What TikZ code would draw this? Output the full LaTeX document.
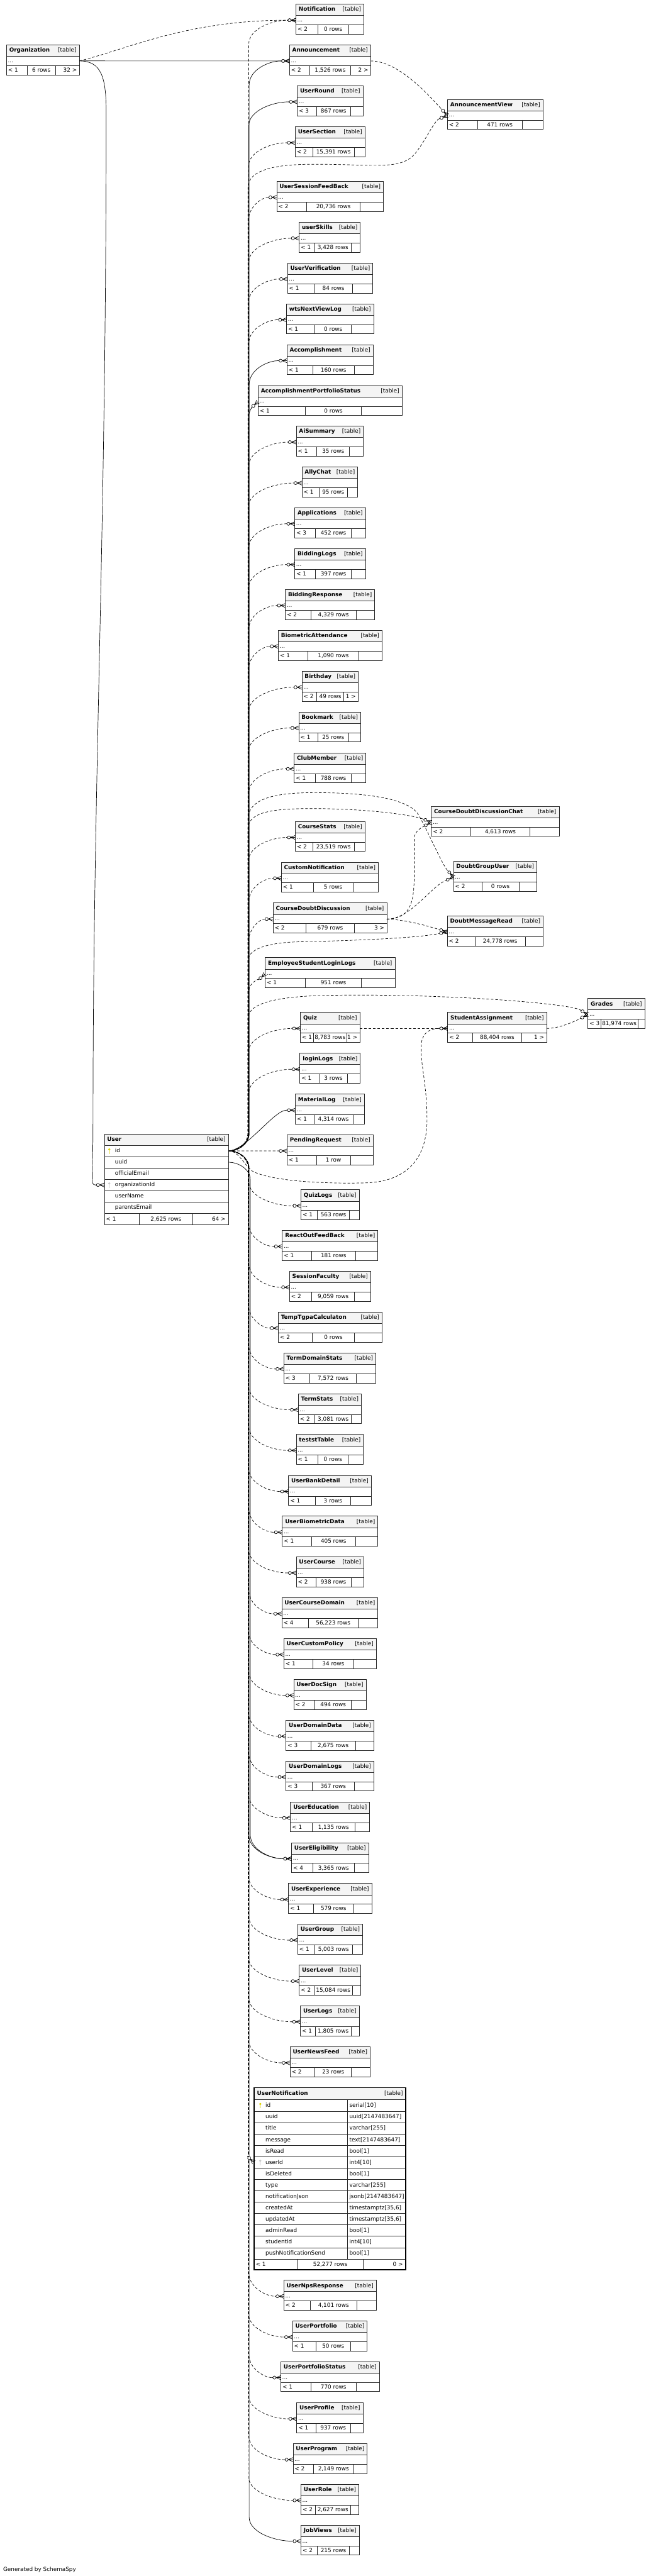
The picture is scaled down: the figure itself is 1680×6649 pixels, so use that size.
\documentclass[tikz,border=0pt]{standalone}
\usepackage{fontspec}
\setmainfont{DejaVu Sans}
\usetikzlibrary{arrows.meta}
\definecolor{hdr}{HTML}{F4F4F4}
\definecolor{pkey}{HTML}{E0D400}
\definecolor{fkey}{HTML}{CACACA}
\newcommand\tfont{\fontsize{10.8}{13}\selectfont}
\pgfdeclarearrow{
  name=Crow,
  setup code={
    \pgfarrowssettipend{0pt}%
    \pgfarrowssetlineend{-17pt}%
    \pgfarrowssetbackend{-17.5pt}%
    \pgfarrowshullpoint{0pt}{4pt}%
    \pgfarrowshullpoint{0pt}{-4pt}%
    \pgfarrowshullpoint{-17.5pt}{0pt}%
  },
  drawing code={
    \pgfsetdash{}{0pt}%
    \pgfpathmoveto{\pgfpoint{0pt}{3.9pt}}%
    \pgfpathlineto{\pgfpoint{-9.3pt}{0pt}}%
    \pgfpathlineto{\pgfpoint{0pt}{-3.9pt}}%
    \pgfpathmoveto{\pgfpoint{0pt}{0pt}}%
    \pgfpathlineto{\pgfpoint{-9.3pt}{0pt}}%
    \pgfpathmoveto{\pgfpoint{-15.3pt}{0pt}}%
    \pgfpathlineto{\pgfpoint{-17.5pt}{0pt}}%
    \pgfusepathqstroke
    \pgfpathcircle{\pgfpoint{-12.3pt}{0pt}}{3pt}%
    \pgfsetfillcolor{white}%
    \pgfusepathqfillstroke
  }
}
\tikzset{
  tb/.style={draw=black!85, line width=0.85pt},
  tt/.style={inner sep=0pt, font=\tfont},
  conn/.style={line width=0.85pt, -{Crow}},
  cd/.style={conn, dash pattern=on 5pt off 3.6pt},
  cs/.style={conn},
  nc/.style={draw=none},
}
% key icon: x, y (row centre), colour
\newcommand\keyicon[3]{%
  \fill[#3] (#1,{#2-4}) circle (2.3pt);
  \draw[#3,line width=1.4pt] (#1,{#2-3}) -- (#1,{#2+7.5});
}
% connector from a User port along the trunk to a table port
% #1 style, #2 trunk x, #3 target, #4 target y, #5 target x, #6 source, #7 source y
\newcommand\uconn[7]{%
  \pgfmathsetmacro\cdy{#4-#7}%
  \pgfmathsetmacro\cady{abs(\cdy)}%
  \pgfmathsetmacro\cdx{#5-#2}%
  \ifdim\cady pt<3pt
    \draw[#1] (#6) -- (#3);
  \else\ifdim\cady pt<140pt
    \draw[#1] (#6) .. controls +(45,0) and +(-55,0) .. (#3);
  \else
    \pgfmathsetmacro\csg{\cdy<0 ? -1 : 1}%
    \pgfmathsetmacro\cya{#7+\csg*45}%
    \pgfmathsetmacro\cyb{#7+\csg*18}%
    \ifdim\cdx pt<58pt
      \pgfmathsetmacro\cyc{#4-\csg*45}%
      \pgfmathsetmacro\cyd{#4-\csg*22}%
      \pgfmathsetmacro\cex{#5-11}%
      \pgfmathsetmacro\cey{#4-\csg*10}%
    \else
      \pgfmathsetmacro\cyc{#4-\csg*62}%
      \pgfmathsetmacro\cyd{#4-\csg*22}%
      \pgfmathsetmacro\cex{#5-0.5*\cdx}%
      \pgfmathsetmacro\cey{#4}%
    \fi
    \draw[#1] (#6) .. controls +(26,0) and (#2,\cyb) .. (#2,\cya) -- (#2,\cyc) .. controls (#2,\cyd) and (\cex,\cey) .. (#3);
  \fi\fi
}
\begin{document}
\begin{tikzpicture}[x=0.75pt,y=-0.75pt]
\fill[white] (0,0) rectangle (1680,6649);
\useasboundingbox (0,0) rectangle (1680,6649);

% ---------------- User table ----------------
\draw[tb,fill=hdr] (269.3,2926.7) rectangle (589.3,2956);
\draw[tb,fill=white] (269.3,2956) rectangle (589.3,3161.1);
\foreach \yy in {2985.3,3014.6,3043.9,3073.2,3102.5,3131.8}{\draw[tb] (269.3,\yy) -- (589.3,\yy);}
\draw[tb] (360,3131.8) -- (360,3161.1) (497,3131.8) -- (497,3161.1);
\node[tt,anchor=base west,font=\tfont\bfseries] (user-t) at (276.5,2945.2) {User};
\node[tt,anchor=base east] (user-k) at (582.3,2945.2) {[table]};
\node[tt,anchor=base west] (user-c1) at (296.7,2975) {id};
\node[tt,anchor=base west] (user-c2) at (296.7,3004.3) {uuid};
\node[tt,anchor=base west] (user-c3) at (296.7,3033.6) {officialEmail};
\node[tt,anchor=base west] (user-c4) at (296.7,3062.9) {organizationId};
\node[tt,anchor=base west] (user-c5) at (296.7,3092.2) {userName};
\node[tt,anchor=base west] (user-c6) at (296.7,3121.5) {parentsEmail};
\node[tt,anchor=base west] (user-l) at (273.3,3150.8) {< 1};
\node[tt,anchor=base] (user-m) at (428.5,3150.8) {2,625 rows};
\node[tt,anchor=base east] (user-r) at (582.3,3150.8) {64 >};
\keyicon{282}{2970.6}{pkey}
\keyicon{282}{3058.5}{fkey}
\coordinate (user-id) at (589.3,2970.5);
\coordinate (user-uuid) at (589.3,2999.8);
\coordinate (user-org-w) at (269.3,3058.5);

% ---------------- UserNotification table ----------------
\fill[hdr] (655.2,5388.4) rectangle (1047.6,5419.8);
\foreach \i in {0,...,14}{\draw[tb] (655.2,{5419.8+29.35*\i}) -- (1047.6,{5419.8+29.35*\i});}
\draw[tb] (896.7,5419.8) -- (896.7,5830.7);
\draw[tb] (767.1,5830.7) -- (767.1,5858) (937.9,5830.7) -- (937.9,5858);
\draw[black,line width=2.2pt] (655.2,5388.4) rectangle (1047.6,5858);
\node[tt,anchor=base west,font=\tfont\bfseries] (un-t) at (663,5407.4) {UserNotification};
\node[tt,anchor=base east] (un-k) at (1040,5407.4) {[table]};
\foreach \cn/\ct [count=\i from 0] in {id/serial[10],uuid/uuid[2147483647],title/varchar[255],message/text[2147483647],isRead/bool[1],userId/int4[10],isDeleted/bool[1],type/varchar[255],notificationJson/jsonb[2147483647],createdAt/{timestamptz[35,6]},updatedAt/{timestamptz[35,6]},adminRead/bool[1],studentId/int4[10],pushNotificationSend/bool[1]}{
  \node[tt,anchor=base west] (un-n\i) at (685.1,{5419.8+29.35*\i+19.5}) {\cn};
  \node[tt,anchor=base west] (un-y\i) at (901.5,{5419.8+29.35*\i+19.5}) {\ct};
}
\keyicon{671.7}{5434.5}{pkey}
\keyicon{671.7}{5581.2}{fkey}
\node[tt,anchor=base west] (un-l) at (660,5849.5) {< 1};
\node[tt,anchor=base] (un-m) at (852.5,5849.5) {52,277 rows};
\node[tt,anchor=base east] (un-r) at (1040,5849.5) {0 >};
\coordinate (un-uid-w) at (655.2,5581.2);

% ---------------- compact tables ----------------
\foreach \tid/\ttl/\xl/\xr/\yt/\da/\db/\fa/\fb/\fc/\us/\bx in {
org/Organization/16.7/204.7/115.7/70/143.3/{< 1}/{6 rows}/{32 >}/nc/640,
notif/Notification/763.6/939.2/10.7/820.4/899.3/{< 2}/{0 rows}/{}/cd/642,
ann/Announcement/747.1/956.6/115.8/799.6/904.5/{< 2}/{1,526 rows}/{2 >}/cs/643,
uround/UserRound/767.1/936.6/221.4/816.9/904.5/{< 3}/{867 rows}/{}/cs/642,
usection/UserSection/761.9/941.8/326.9/807/914.1/{< 2}/{15,391 rows}/{}/cd/641,
av/AnnouncementView/1154.7/1401.3/256.4/1231.9/1348/{< 2}/{471 rows}/{}/nc/640,
usfb/UserSessionFeedBack/714.2/989.5/467.9/791.3/929.7/{< 2}/{20,736 rows}/{}/cd/641,
uskills/userSkills/772.3/929.7/573.5/812.6/905.8/{< 1}/{3,428 rows}/{}/cd/642,
uverif/UserVerification/741.9/962.2/678.8/811.3/909.7/{< 1}/{84 rows}/{}/cd/641,
wts/wtsNextViewLog/739.3/964.4/783.9/812.6/907.1/{< 1}/{0 rows}/{}/cd/642,
accomp/Accomplishment/740.6/963.1/889.5/807/914.1/{< 1}/{160 rows}/{}/cs/643,
aps/AccomplishmentPortfolioStatus/666/1037.7/995/788.3/932.7/{< 1}/{0 rows}/{}/cs/641,
aisum/AiSummary/764.5/937.9/1099.7/817.8/901.9/{< 1}/{35 rows}/{}/cd/642,
ally/AllyChat/779.2/923.2/1205.3/823/896.7/{< 1}/{95 rows}/{}/cd/641,
apps/Applications/760.6/943.1/1310.4/813.9/907.1/{< 3}/{452 rows}/{}/cd/642,
bidlogs/BiddingLogs/760.6/943.1/1415.7/813.9/907.1/{< 1}/{397 rows}/{}/cd/641,
bidresp/BiddingResponse/736.3/967/1521.3/801.8/919.3/{< 2}/{4,329 rows}/{}/cd/642,
bio/BiometricAttendance/718.1/986/1626.8/794.8/925.8/{< 1}/{1,090 rows}/{}/cd/641,
bday/Birthday/779.2/924.5/1732.4/817.8/887.2/{< 2}/{49 rows}/{1 >}/cd/642,
bmark/Bookmark/771/931/1837.5/820.4/899.3/{< 1}/{25 rows}/{}/cd/641,
club/ClubMember/759.3/944.4/1943.1/813.9/907.1/{< 1}/{788 rows}/{}/cd/642,
cstats/CourseStats/761.9/941.8/2120/807/914.1/{< 2}/{23,519 rows}/{}/cd/641,
cnotif/CustomNotification/725.9/976.5/2225.3/808.3/911/{< 1}/{5 rows}/{}/cd/642,
cdd/CourseDoubtDiscussion/704.6/998.2/2330.7/790/914.1/{< 2}/{679 rows}/{3 >}/cd/641,
cddc/CourseDoubtDiscussionChat/1113.1/1442.9/2081/1214.6/1368/{< 2}/{4,613 rows}/{}/nc/640,
dgu/DoubtGroupUser/1170.4/1385.6/2222.7/1243.2/1339.6/{< 2}/{0 rows}/{}/nc/640,
dmr/DoubtMessageRead/1154.3/1401.7/2364/1225.4/1356/{< 2}/{24,778 rows}/{}/nc/640,
esll/EmployeeStudentLoginLogs/684.4/1019.3/2471.9/788.5/932.4/{< 1}/{951 rows}/{}/cd/642,
quiz/Quiz/775.3/928.5/2613.1/808.4/895.3/{< 1}/{8,783 rows}/{1 >}/cd/641,
sa/StudentAssignment/1155.3/1410.6/2613.1/1220.2/1346.2/{< 2}/{88,404 rows}/{1 >}/nc/640,
grades/Grades/1517.3/1663.9/2577.2/1550.5/1646/{< 3}/{81,974 rows}/{}/nc/640,
login/loginLogs/774/929.8/2718.4/824.4/896.6/{< 1}/{3 rows}/{}/cd/642,
mlog/MaterialLog/762/940.4/2824/810.4/910.6/{< 1}/{4,314 rows}/{}/cs/643,
preq/PendingRequest/740.8/963/2929.2/816.4/904.6/{< 1}/{1 row}/{}/cd/641,
qlogs/QuizLogs/776.6/927.1/3070.8/819.1/901.9/{< 1}/{563 rows}/{}/cd/642,
rofb/ReactOutFeedBack/728.5/975.2/3175.8/803.5/918/{< 1}/{181 rows}/{}/cd/641,
sfac/SessionFaculty/747.1/956.6/3281.2/804.8/914.9/{< 2}/{9,059 rows}/{}/cd/642,
ttgpa/TempTgpaCalculaton/718.1/986/3386.5/806.1/914.9/{< 2}/{0 rows}/{}/cd/641,
tds/TermDomainStats/732.4/970/3491.9/799.6/919.7/{< 3}/{7,572 rows}/{}/cd/642,
tstats/TermStats/769.7/932.7/3597.3/812.6/907.1/{< 2}/{3,081 rows}/{}/cd/641,
tst/teststTable/764.5/937.9/3702.2/820.4/898/{< 1}/{0 rows}/{}/cd/642,
ubank/UserBankDetail/744.5/958.3/3808.1/813.9/904.5/{< 1}/{3 rows}/{}/cd/641,
ubio/UserBiometricData/728.5/975.2/3913.4/803.5/918/{< 1}/{405 rows}/{}/cd/642,
ucourse/UserCourse/764.5/939.2/4018.4/815.2/905.8/{< 2}/{938 rows}/{}/cd/641,
ucd/UserCourseDomain/727.2/975.2/4123.8/795.2/924.5/{< 4}/{56,223 rows}/{}/cd/642,
ucp/UserCustomPolicy/732.4/971.3/4229.1/807.4/912.8/{< 1}/{34 rows}/{}/cd/641,
uds/UserDocSign/758/944.9/4334.5/812.6/907.1/{< 2}/{494 rows}/{}/cd/642,
udd/UserDomainData/738/964.8/4439.9/801.8/918/{< 3}/{2,675 rows}/{}/cd/641,
udl/UserDomainLogs/738/964.8/4545.3/806.1/914.1/{< 3}/{367 rows}/{}/cd/642,
uedu/UserEducation/749.7/954/4650.7/806.1/915.4/{< 1}/{1,135 rows}/{}/cd/641,
uelig/UserEligibility/752.3/951.4/4756/807.4/914.1/{< 4}/{3,365 rows}/{}/cs/642,
uexp/UserExperience/744.5/959.6/4861.4/808.7/912.8/{< 1}/{579 rows}/{}/cd/641,
ugroup/UserGroup/768.4/935.8/4966.3/812.6/908.9/{< 1}/{5,003 rows}/{}/cd/642,
ulevel/UserLevel/772.3/931.4/5072/810/909.7/{< 2}/{15,084 rows}/{}/cd/641,
ulogs/UserLogs/775.3/927.1/5177/813.9/905.8/{< 1}/{1,805 rows}/{}/cd/642,
unf/UserNewsFeed/748.4/955.3/5282.9/812.6/907.1/{< 2}/{23 rows}/{}/cd/641,
unps/UserNpsResponse/732.4/971.3/5885.4/800.5/921/{< 2}/{4,101 rows}/{}/cd/642,
uport/UserPortfolio/754.9/947.5/5990.7/815.2/904.5/{< 1}/{50 rows}/{}/cd/641,
upstat/UserPortfolioStatus/724.6/979.1/6095.4/801.8/919.3/{< 1}/{770 rows}/{}/cd/642,
uprof/UserProfile/765.8/936.6/6201.7/815.2/904.5/{< 1}/{937 rows}/{}/cd/641,
uprog/UserProgram/756.2/947.5/6307/808.7/912.8/{< 2}/{2,149 rows}/{}/cd/642,
urole/UserRole/776.6/926.2/6412.2/813.9/904.5/{< 2}/{2,627 rows}/{}/cd/641,
jobv/JobViews/776.6/927.1/6517.5/819.1/901.9/{< 2}/{215 rows}/{}/cs/643}{
  \pgfmathsetmacro\ya{\yt+29.5}
  \pgfmathsetmacro\yb{\yt+53.5}
  \pgfmathsetmacro\yc{\yt+77.5}
  \pgfmathsetmacro\ry{\yt+41.5}
  \pgfmathsetmacro\xm{(\da+\db)/2}
  \draw[tb,fill=hdr] (\xl,\yt) rectangle (\xr,\ya);
  \draw[tb,fill=white] (\xl,\ya) rectangle (\xr,\yc);
  \draw[tb] (\xl,\yb) -- (\xr,\yb) (\da,\yb) -- (\da,\yc) (\db,\yb) -- (\db,\yc);
  \node[tt,anchor=base west,font=\tfont\bfseries] (\tid-t) at ({\xl+7},{\yt+18.5}) {\ttl};
  \node[tt,anchor=base east] (\tid-k) at ({\xr-7},{\yt+18.5}) {[table]};
  \node[tt,anchor=base west] (\tid) at ({\xl+3.5},{\ya+16}) {...};
  \node[tt,anchor=base west] (\tid-l) at ({\xl+4},{\yb+16.5}) {\fa};
  \node[tt,anchor=base] (\tid-m) at (\xm,{\yb+16.5}) {\fb};
  \node[tt,anchor=base east] (\tid-r) at ({\xr-6},{\yb+16.5}) {\fc};
  \coordinate (\tid-w) at (\xl,\ry);
  \coordinate (\tid-e) at (\xr,\ry);
  \uconn{\us}{\bx}{\tid-w}{\ry}{\xl}{user-id}{2970.5}
}

% ---------------- extra User connectors ----------------
\uconn{cs}{646}{uelig-w}{4797.5}{752.3}{user-uuid}{2999.8}
\uconn{cd}{641}{un-uid-w}{5581.2}{655.2}{user-id}{2970.5}

% ---------------- Organization connectors ----------------
\draw[cs] (org-e) -- (ann-w);
\draw[cd] (org-e) .. controls (330,127) and (480,52.2) .. (notif-w);
\draw[cs] (org-e) .. controls (262,157.2) and (274,200) .. (274,290) .. controls (274,1400) and (240,2000) .. (240,2900) .. controls (240,3045) and (232,3058.5) .. (user-org-w);

% ---------------- special connectors ----------------
\draw[cd] (ann-e) .. controls (1030,157.3) and (1110,250) .. (av-w);
\draw[cd] (user-id) .. controls +(26,0) and (640,2952) .. (640,2925) -- (640,485) .. controls (640,445) and (690,425) .. (800,424) .. controls (960,423) and (1030,440) .. (1068,400) .. controls (1095,370) and (1120,312) .. (av-w);
% course doubt group
\draw[cd] (user-id) .. controls +(26,0) and (640,2952) .. (640,2925) -- (640,2115) .. controls (640,2065) and (700,2047) .. (800,2046) .. controls (940,2045) and (1050,2060) .. (1078,2100) .. controls (1100,2135) and (1140,2230) .. (dgu-w);
\draw[cd] (user-id) .. controls +(26,0) and (640,2952) .. (640,2925) -- (640,2140) .. controls (640,2100) and (690,2088) .. (790,2087) .. controls (950,2086) and (1070,2105) .. (cddc-w);
\draw[cd] (cdd-e) .. controls (1065,2372) and (1069,2320) .. (1069,2250) -- (1069,2165) .. controls (1069,2145) and (1090,2135) .. (cddc-w);
\draw[cd] (cdd-e) .. controls (1060,2372) and (1110,2290) .. (dgu-w);
\draw[cd] (cdd-e) .. controls (1050,2374) and (1110,2392) .. (dmr-w);
\draw[cd] (user-id) .. controls +(26,0) and (640,2952) .. (640,2925) -- (640,2480) .. controls (640,2450) and (690,2433) .. (770,2431) .. controls (950,2427) and (1080,2420) .. (dmr-w);
% assignments and grades
\draw[cd] (quiz-e) -- (sa-w);
\draw[cd] (user-id) .. controls +(26,0) and (640,2952) .. (640,2925) -- (640,2630) .. controls (640,2595) and (690,2572) .. (850,2569) .. controls (1150,2564) and (1470,2590) .. (grades-w);
\draw[cd] (sa-e) .. controls (1445,2654.6) and (1488,2634) .. (grades-w);
\draw[cd] (user-id) .. controls +(26,0) and (625,3000) .. (650,3022) .. controls (700,3050) and (850,3056) .. (945,3053) .. controls (1040,3050) and (1102,3000) .. (1102,2890) .. controls (1102,2790) and (1082,2740) .. (1088,2690) .. controls (1092,2665) and (1110,2654.6) .. (sa-w);

% ---------------- footer ----------------
\node[tt,anchor=base west] (gen) at (8,6636) {Generated by SchemaSpy};
\end{tikzpicture}
\end{document}
